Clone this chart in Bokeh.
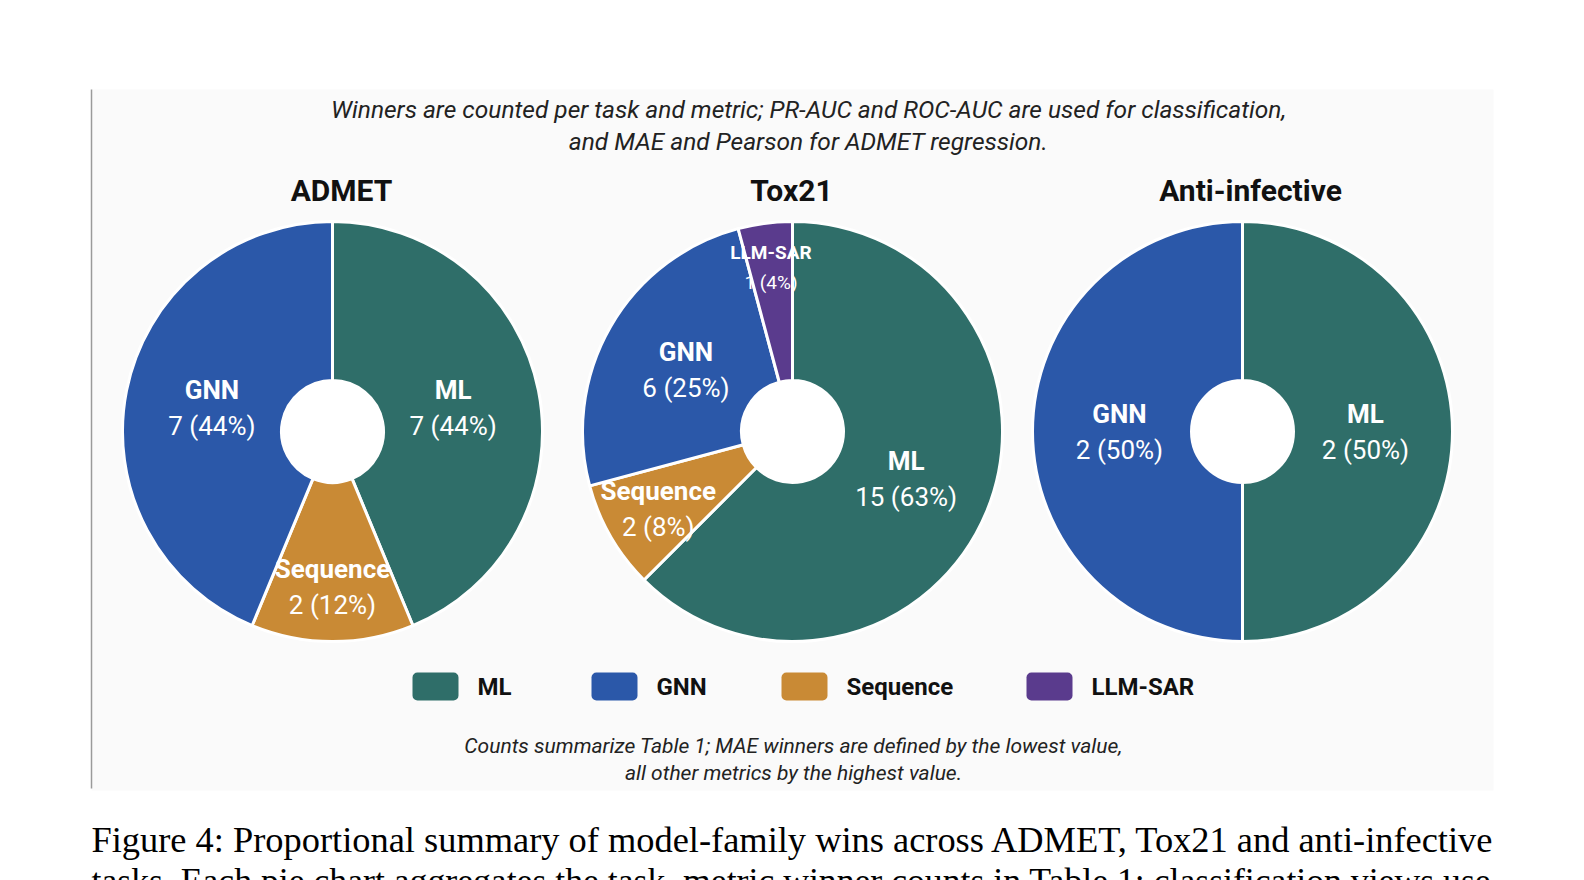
import math
from bokeh.plotting import figure
from bokeh.models import Range1d, ColumnDataSource
from bokeh.core.properties import value
from bokeh.embed import file_html
from bokeh.resources import INLINE

# ---------------- data ----------------
panel_titles = ["ADMET", "Tox21", "Anti-infective"]
admet_families = ["ML", "Sequence", "GNN"]
admet_counts = [7, 2, 7]
admet_pct = [44, 12, 44]
tox21_families = ["ML", "Sequence", "GNN", "LLM-SAR"]
tox21_counts = [15, 2, 6, 1]
tox21_pct = [63, 8, 25, 4]
anti_families = ["ML", "GNN"]
anti_counts = [2, 2]
anti_pct = [50, 50]
legend_names = ["ML", "GNN", "Sequence", "LLM-SAR"]
family_colors = {"ML": "#2F6E69", "GNN": "#2B58A9", "Sequence": "#C98A35", "LLM-SAR": "#5A3B8D"}

subtitle_lines = ["Winners are counted per task and metric; PR-AUC and ROC-AUC are used for classification,",
                  "and MAE and Pearson for ADMET regression."]
note_lines = ["Counts summarize Table 1; MAE winners are defined by the lowest value,",
              "all other metrics by the highest value."]
caption_line1 = "Figure 4:  Proportional summary of model-family wins across ADMET, Tox21 and anti-infective"
caption_line2 = "tasks.  Each pie chart aggregates the task\u2013metric winner counts in Table 1; classification views use"

# ---------------- layout ----------------
W, H = 1584, 880
SANS = "Roboto"
SERIF = "Liberation Serif"


def Y(sy):
    return H - sy


p = figure(width=W, height=H, output_backend="svg", toolbar_location=None,
           x_range=Range1d(0, W), y_range=Range1d(0, H),
           min_border=0, min_border_left=0, min_border_right=0, min_border_top=0, min_border_bottom=0)
p.xaxis.visible = False
p.yaxis.visible = False
p.grid.visible = False
p.outline_line_color = None
p.background_fill_color = "white"
p.border_fill_color = "white"

# chart image background and left rule
p.quad(left=[91], right=[1493], bottom=[Y(790)], top=[Y(89)], fill_color="#FAFAFA", line_color=None)
p.segment(x0=[91], y0=[Y(89)], x1=[91], y1=[Y(788)], line_color="#9A9A9A", line_width=1.5)

# subtitle
for i, line in enumerate(subtitle_lines):
    p.text(x=[808], y=[Y(109 + 32 * i)], text=[line], text_align="center", text_baseline="middle",
           text_font=value(SANS), text_font_style="italic", text_font_size="24.5px", text_color="#222222")

centers_x = [332, 792, 1242]
title_x = [341, 791, 1250]
R_OUT, R_IN = 210, 51
panels = [(admet_families, admet_counts, admet_pct),
          (tox21_families, tox21_counts, tox21_pct),
          (anti_families, anti_counts, anti_pct)]

for k, (fams, counts, pcts) in enumerate(panels):
    cx, cy = centers_x[k], Y(431)
    total = float(sum(counts))
    starts, ends, cols, lx, ly = [], [], [], [], []
    cum = 0.0
    for f, c in zip(fams, counts):
        a0 = math.pi / 2 - (cum + c) / total * 2 * math.pi
        a1 = math.pi / 2 - cum / total * 2 * math.pi
        starts.append(a0)
        ends.append(a1)
        cols.append(family_colors[f])
        mid = (a0 + a1) / 2
        share = c / total
        rl = 123 if share >= 0.2 else (165 if share < 0.06 else 155)
        lx.append(cx + rl * math.cos(mid))
        ly.append(cy + rl * math.sin(mid))
        cum += c
    p.circle(x=[cx], y=[cy], radius=R_IN + 2, fill_color="white", line_color=None)
    src = ColumnDataSource(dict(x=[cx] * len(fams), y=[cy] * len(fams), s=starts, e=ends, c=cols))
    p.annular_wedge(x="x", y="y", inner_radius=R_IN, outer_radius=R_OUT, start_angle="s", end_angle="e",
                    fill_color="c", line_color="white", line_width=3, source=src)
    # labels
    for f, c, pc, x, y in zip(fams, counts, pcts, lx, ly):
        small = f == "LLM-SAR"
        fs = "19px" if small else "26px"
        dy = 15 if small else 18
        p.text(x=[x], y=[y + dy], text=[f], text_align="center", text_baseline="middle",
               text_font=value(SANS), text_font_style="bold", text_font_size=fs, text_color="white")
        p.text(x=[x], y=[y - dy], text=[f"{c} ({pc}%)"], text_align="center", text_baseline="middle",
               text_font=value(SANS), text_font_size=fs, text_color="white")
    p.text(x=[title_x[k]], y=[Y(190)], text=[panel_titles[k]], text_align="center", text_baseline="middle",
           text_font=value(SANS), text_font_style="bold", text_font_size="30px", text_color="#111111")

# legend
leg_left = [412, 591, 781, 1026]
for name, lft in zip(legend_names, leg_left):
    p.quad(left=[lft], right=[lft + 46], bottom=[Y(700)], top=[Y(672)], fill_color=family_colors[name],
           line_color=None, border_radius=5)
    p.text(x=[lft + 65], y=[Y(686)], text=[name], text_align="left", text_baseline="middle",
           text_font=value(SANS), text_font_style="bold", text_font_size="24px", text_color="#111111")

# bottom note
for i, line in enumerate(note_lines):
    p.text(x=[793], y=[Y(745 + 27 * i)], text=[line], text_align="center", text_baseline="middle",
           text_font=value(SANS), text_font_style="italic", text_font_size="21px", text_color="#222222")

# figure caption (page text)
p.text(x=[91], y=[Y(839)], text=[caption_line1], text_align="left", text_baseline="alphabetic",
       text_font=value(SERIF), text_font_size="36.4px", text_color="#000000")
p.text(x=[91], y=[Y(880)], text=[caption_line2], text_align="left", text_baseline="alphabetic",
       text_font=value(SERIF), text_font_size="35.7px", text_color="#000000")

open("out.html", "w").write(file_html(p, INLINE))
